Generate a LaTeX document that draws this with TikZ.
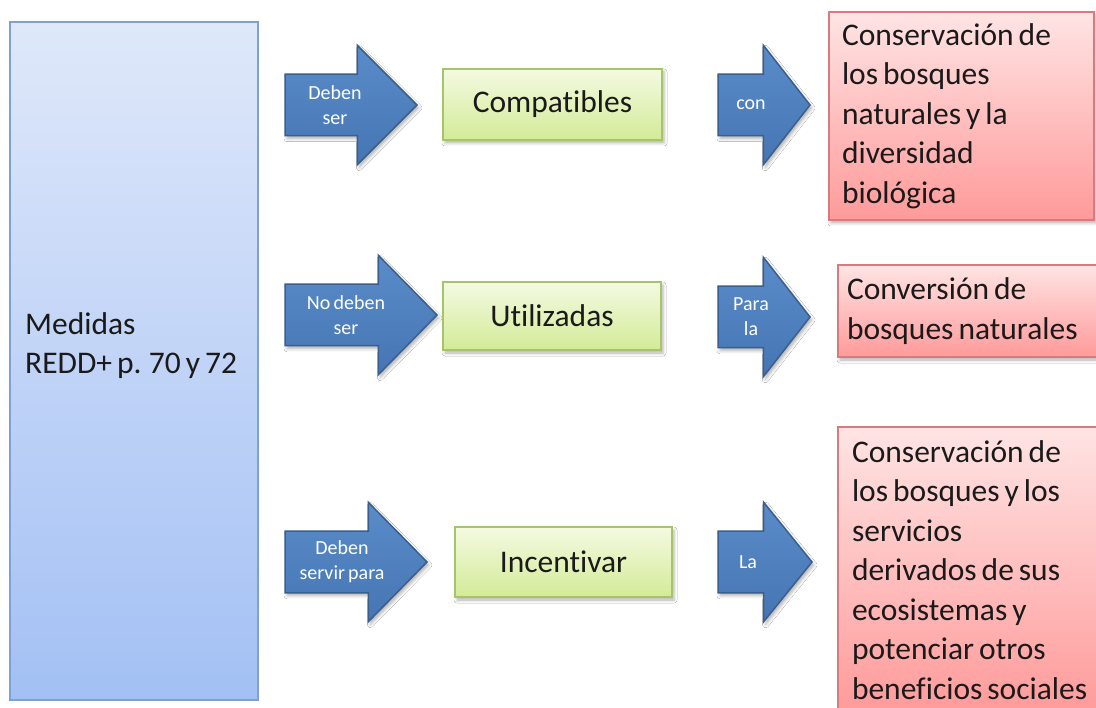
\documentclass[tikz,border=0pt]{standalone}
\usepackage{fontspec}
\setmainfont{Carlito}[Ligatures=NoCommon, WordSpace=0.7]
\usepackage{xcolor}
\usetikzlibrary{shapes.arrows,shadows.blur,positioning}

\definecolor{azularriba}{HTML}{DFE8FA}
\definecolor{azulabajo}{HTML}{A3C0F4}
\definecolor{bordeazul}{HTML}{7FA1D2}
\definecolor{verdearriba}{HTML}{F4FAE2}
\definecolor{verdeabajo}{HTML}{D3EB97}
\definecolor{bordeverde}{HTML}{A6C46A}
\definecolor{rojoarriba}{HTML}{FFE4E4}
\definecolor{rojoabajo}{HTML}{FF9A9A}
\definecolor{borderojo}{HTML}{D67C7C}
\definecolor{flechaarriba}{HTML}{5A8CC9}
\definecolor{flechaabajo}{HTML}{4576B3}
\definecolor{bordeflecha}{HTML}{3A5F8F}
\definecolor{textonegro}{HTML}{1A1A1A}

\newcommand{\textogrande}{\fontsize{31.5}{39.5}\selectfont}
\newcommand{\textochico}{\fontsize{20}{25}\selectfont}

\tikzset{
	sombra/.style={blur shadow={shadow xshift=2pt, shadow yshift=-3pt, shadow blur radius=3pt, shadow opacity=30}},
	caja/.style={rectangle, line width=1.2pt, inner ysep=0pt, outer sep=0pt, anchor=north west, text=textonegro, font=\textogrande},
	cajaazul/.style={caja, draw=bordeazul, top color=azularriba, bottom color=azulabajo},
	cajaverde/.style={caja, sombra, draw=bordeverde, top color=verdearriba, bottom color=verdeabajo},
	cajaroja/.style={caja, sombra, draw=borderojo, top color=rojoarriba, bottom color=rojoabajo, align=left,
			execute at begin node={\spaceskip=0pt\relax}},
	flecha/.style={single arrow, sombra, draw=bordeflecha, line width=1.5pt, top color=flechaarriba, bottom color=flechaabajo,
			inner xsep=0pt, inner ysep=30pt, outer sep=0pt, single arrow head extend=29pt, anchor=tail},
	textoflecha/.style={text=white, font=\textochico, align=center, inner sep=0pt}
}

\begin{document}
\begin{tikzpicture}[x=1pt,y=-1pt]
	\path[use as bounding box, fill=white] (0,0) rectangle (1096,708);

	% Left box
	\node[cajaazul, minimum width=248pt, minimum height=678pt] (medidas) at (10,22) {};
	\node[font=\textogrande, text=textonegro, align=left, anchor=west, inner sep=0pt] (medidastexto) at (25,345.5) {Medidas\\REDD+ p. 70 y 72};

	% First column of arrows
	\node[flecha, minimum height=132pt, single arrow tip angle=90] (flechaA) at (285,105) {};
	\node[flecha, minimum height=152pt, single arrow tip angle=91] (flechaB) at (285,315) {};
	\node[flecha, minimum height=142pt, single arrow tip angle=91] (flechaC) at (285,562) {};
	\node[textoflecha] (debenser) at ([xshift=50pt]flechaA.tail) {Deben\\ser};
	\node[textoflecha] (nodebenser) at ([xshift=61pt]flechaB.tail) {No deben\\ser};
	\node[textoflecha] (debenservir) at ([xshift=57pt]flechaC.tail) {Deben\\servir para};

	% Green boxes
	\node[cajaverde, minimum width=219pt, minimum height=71pt] (compatibles) at (443,69) {Compatibles};
	\node[cajaverde, minimum width=218pt, minimum height=68pt] (utilizadas) at (443,282) {Utilizadas};
	\node[cajaverde, minimum width=217pt, minimum height=70pt] (incentivar) at (455,527) {Incentivar};

	% Second column of arrows
	\node[flecha, minimum height=92pt, single arrow tip angle=104] (flechaD) at (718,105) {};
	\node[flecha, minimum height=92pt, single arrow tip angle=104] (flechaE) at (718,317) {};
	\node[flecha, minimum height=94pt, single arrow tip angle=102] (flechaF) at (718,562) {};
	\node[textoflecha] (con) at ([xshift=33pt]flechaD.tail) {con};
	\node[textoflecha] (parala) at ([xshift=33pt]flechaE.tail) {Para\\la};
	\node[textoflecha] (la) at ([xshift=30pt]flechaF.tail) {La};

	% Red boxes
	\node[cajaroja, inner xsep=13pt, text width=239pt, minimum height=208pt] (conservacion) at (829,12)
		{Conservación de\\los bosques\\naturales y la\\diversidad\\biológica};
	\node[cajaroja, inner xsep=9pt, text width=252pt, minimum height=92pt] (conversion) at (838,265)
		{Conversión de\\bosques naturales};
	\node[cajaroja, inner xsep=14pt, text width=252pt, minimum height=286pt] (servicios) at (838,427)
		{Conservación de\\los bosques y los\\servicios\\derivados de sus\\ecosistemas y\\potenciar otros\\beneficios sociales};
\end{tikzpicture}
\end{document}
